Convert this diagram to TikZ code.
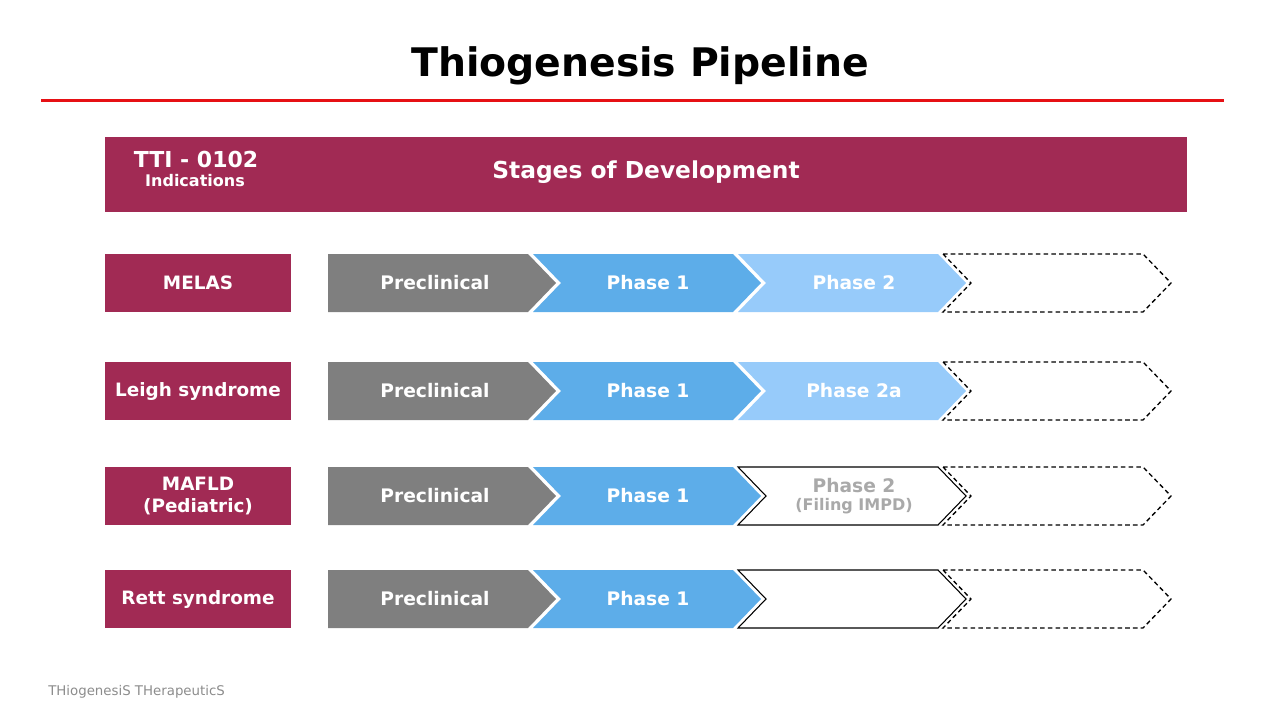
\documentclass[tikz,border=0pt]{standalone}
\usepackage{fontspec}
\setmainfont{DejaVu Sans}
\usepackage{xcolor}

\definecolor{ttired}{RGB}{161,42,84}
\definecolor{linered}{RGB}{230,16,20}
\definecolor{pregray}{RGB}{127,127,127}
\definecolor{phaseblue}{RGB}{93,173,233}
\definecolor{phaselight}{RGB}{151,203,250}
\definecolor{footgray}{RGB}{140,140,140}

% chevron with notch: [style]{left x}{centre y}
\newcommand{\stagechev}[3][]{%
  \path[#1] (#2,#3-29) -- ++(200,0) -- ++(28,29) -- ++(-28,29) -- ++(-200,0) -- ++(28,-29) -- cycle;}
% first chevron, flat left side
\newcommand{\stagefirst}[3][]{%
  \path[#1] (#2,#3-29) -- ++(200,0) -- ++(28,29) -- ++(-28,29) -- ++(-200,0) -- cycle;}

\begin{document}
\begin{tikzpicture}[x=0.75pt,y=-0.75pt,
  stagetext/.style={text=white,font=\fontsize{14}{16}\selectfont\bfseries,align=center},
  indbox/.style={fill=ttired,text=white,font=\fontsize{13.8}{16.5}\selectfont\bfseries,
    minimum width=139.5pt,minimum height=43.5pt,inner sep=0pt,align=center},
  emptychev/.style={draw=black,fill=white,line width=0.8pt},
  futurechev/.style={draw=black,fill=white,line width=1pt,dash pattern=on 3.4pt off 2.4pt}]
\useasboundingbox (0,0) rectangle (1280,720);

% Title
\node (title) at (640,66) {\fontsize{29.5}{34}\selectfont\bfseries Thiogenesis Pipeline};
\draw[linered,line width=2.25pt] (41,101) -- (1224,101);

% Header bar
\fill[ttired] (105,137) rectangle (1187,212);
\node[text=white,font=\fontsize{16.5}{19}\selectfont\bfseries] (tti) at (196,159) {TTI - 0102};
\node[text=white,font=\fontsize{12}{14}\selectfont\bfseries] (indic) at (195,181) {Indications};
\node[text=white,font=\fontsize{17.5}{21}\selectfont\bfseries] (stages) at (646,172) {Stages of Development};

% Indications
\node[indbox] (melas) at (198,283) {MELAS};
\node[indbox] (leigh) at (198,391) {Leigh syndrome};
\node[indbox] (mafld) at (198,496) {MAFLD\\(Pediatric)};
\node[indbox] (rett) at (198,599) {Rett syndrome};

% Common stages for every row
\foreach \y/\n in {283/mel,391/lei,496/maf,599/ret} {
  \stagefirst[fill=pregray]{328}{\y}
  \stagechev[fill=phaseblue]{533}{\y}
  \stagechev[futurechev]{943}{\y}
  \node[stagetext] (\n-pre) at (435,\y) {Preclinical};
  \node[stagetext] (\n-ph1) at (648,\y) {Phase 1};
}

% Third stage
\stagechev[fill=phaselight]{738}{283}
\node[stagetext] (mel-ph2) at (854,283) {Phase 2};
\stagechev[fill=phaselight]{738}{391}
\node[stagetext] (lei-ph2) at (854,391) {Phase 2a};
\stagechev[emptychev]{738}{496}
\node[text=footgray!75,font=\bfseries,align=center] (maf-ph2) at (854,496)
  {\fontsize{14}{16}\selectfont Phase 2\\[1pt]\fontsize{12}{14}\selectfont (Filing IMPD)};
\stagechev[emptychev]{738}{599}

% Footer
\node[anchor=west,text=footgray,font=\fontsize{10}{12}\selectfont,inner sep=0pt] (foot) at (48,692)
  {THiogenesiS THerapeuticS};
\end{tikzpicture}
\end{document}
